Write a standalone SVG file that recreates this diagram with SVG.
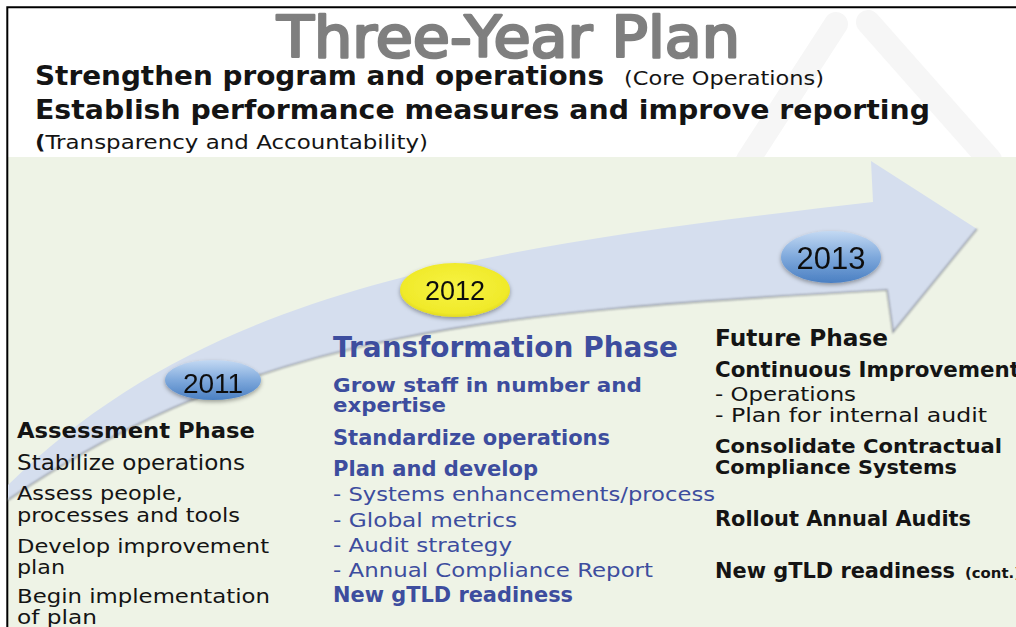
<svg xmlns="http://www.w3.org/2000/svg" width="1016" height="627" viewBox="0 0 1016 627">
<defs>
<style>
.hd{font-family:"DejaVu Sans","Liberation Sans",sans-serif;font-weight:bold;fill:#141414}
.nm{font-family:"DejaVu Sans","Liberation Sans",sans-serif;fill:#141414}
.bb{font-family:"DejaVu Sans","Liberation Sans",sans-serif;font-weight:bold;fill:#3d4d9e}
.bn{font-family:"DejaVu Sans","Liberation Sans",sans-serif;fill:#3d4d9e}
.yr{font-family:"Liberation Sans",Arial,sans-serif;fill:#111;text-anchor:middle}
.ttl{font-family:"DejaVu Sans","Liberation Sans",sans-serif;fill:#7f7f7f}
</style>
<linearGradient id="blueG" x1="0" y1="0" x2="0" y2="1">
<stop offset="0" stop-color="#c3d9f3"/>
<stop offset="0.5" stop-color="#7fa9dc"/>
<stop offset="1" stop-color="#4a7fc2"/>
</linearGradient>
<radialGradient id="yelG" cx="0.5" cy="0.45" r="0.6">
<stop offset="0" stop-color="#f7f343"/>
<stop offset="0.8" stop-color="#f0ea2a"/>
<stop offset="1" stop-color="#d8cf1c"/>
</radialGradient>
<filter id="sh" x="-20%" y="-30%" width="140%" height="170%">
<feDropShadow dx="0" dy="2" stdDeviation="2" flood-color="#000" flood-opacity="0.35"/>
</filter>
<filter id="blur1"><feGaussianBlur stdDeviation="0.8"/></filter>
</defs>

<rect x="0" y="0" width="1016" height="627" fill="#ffffff"/>
<g id="watermark" fill="none" stroke="#f6f6f6" stroke-width="24" stroke-linecap="round">
<path d="M748 160 L836 24"/>
<path d="M868 22 L990 160"/>
</g>
<rect x="8" y="157" width="1008" height="470" fill="#eef3e6"/>
<g id="frame" stroke="#000" stroke-width="2" fill="none">
<path d="M7.3 627 L7.3 7.3 L1016 7.3"/>
</g>

<g id="connectors">
<g id="timeline-arrow">
<path d="M8 485 C208 289 475 248 873 202 L871 161 L977 229 L893 332 L887 290 C494 312 258 330 8 500 Z" fill="#d5deee"/>
<path d="M8 500 C258 330 494 312 887 290 L893 332 L977 229" fill="none" stroke="#8f949c" stroke-width="1.6" filter="url(#blur1)" opacity="0.9"/>
</g>
</g>

<g id="header">
<text x="277" y="57" class="ttl" font-size="57" stroke="#7f7f7f" stroke-width="2.6" stroke-linejoin="round" textLength="463" lengthAdjust="spacingAndGlyphs">Three-Year Plan</text>
<text x="35" y="85" class="hd" font-size="26" textLength="569" lengthAdjust="spacingAndGlyphs">Strengthen program and operations</text>
<text x="624" y="85" class="nm" font-size="19" textLength="200" lengthAdjust="spacingAndGlyphs">(Core Operations)</text>
<text x="35" y="119" class="hd" font-size="26" textLength="895" lengthAdjust="spacingAndGlyphs">Establish performance measures and improve reporting</text>
<text x="35" y="149" class="nm" font-size="19" textLength="393" lengthAdjust="spacingAndGlyphs"><tspan font-weight="bold">(</tspan>Transparency and Accountability)</text>
</g>

<g id="year-2011" filter="url(#sh)">
<ellipse cx="213" cy="380" rx="48" ry="20" fill="url(#blueG)"/>
<text x="213" y="393" class="yr" font-size="28">2011</text>
</g>
<g id="year-2012" filter="url(#sh)">
<ellipse cx="455" cy="290" rx="55" ry="27" fill="url(#yelG)"/>
<text x="455" y="300" class="yr" font-size="27">2012</text>
</g>
<g id="year-2013" filter="url(#sh)">
<ellipse cx="831" cy="257" rx="50" ry="26" fill="url(#blueG)"/>
<text x="831" y="269" class="yr" font-size="31">2013</text>
</g>

<g id="assessment-phase">
<text x="17" y="438" class="hd" font-size="22" textLength="238" lengthAdjust="spacingAndGlyphs">Assessment Phase</text>
<text x="17" y="470" class="nm" font-size="21" textLength="228" lengthAdjust="spacingAndGlyphs">Stabilize operations</text>
<text x="17" y="500" class="nm" font-size="20" textLength="166" lengthAdjust="spacingAndGlyphs">Assess people,</text>
<text x="17" y="522" class="nm" font-size="20" textLength="223" lengthAdjust="spacingAndGlyphs">processes and tools</text>
<text x="17" y="553" class="nm" font-size="20" textLength="252" lengthAdjust="spacingAndGlyphs">Develop improvement</text>
<text x="17" y="574" class="nm" font-size="20" textLength="48" lengthAdjust="spacingAndGlyphs">plan</text>
<text x="17" y="603" class="nm" font-size="20" textLength="253" lengthAdjust="spacingAndGlyphs">Begin implementation</text>
<text x="17" y="624" class="nm" font-size="20" textLength="80" lengthAdjust="spacingAndGlyphs">of plan</text>
</g>

<g id="transformation-phase">
<text x="333" y="357" class="bb" font-size="29" textLength="345" lengthAdjust="spacingAndGlyphs">Transformation Phase</text>
<text x="333" y="392" class="bb" font-size="20" textLength="309" lengthAdjust="spacingAndGlyphs">Grow staff in number and</text>
<text x="333" y="412" class="bb" font-size="20" textLength="113" lengthAdjust="spacingAndGlyphs">expertise</text>
<text x="333" y="445" class="bb" font-size="21" textLength="277" lengthAdjust="spacingAndGlyphs">Standardize operations</text>
<text x="333" y="476" class="bb" font-size="21" textLength="205" lengthAdjust="spacingAndGlyphs">Plan and develop</text>
<text x="333" y="501" class="bn" font-size="20" textLength="382" lengthAdjust="spacingAndGlyphs">- Systems enhancements/process</text>
<text x="333" y="527" class="bn" font-size="20" textLength="184" lengthAdjust="spacingAndGlyphs">- Global metrics</text>
<text x="333" y="552" class="bn" font-size="20" textLength="179" lengthAdjust="spacingAndGlyphs">- Audit strategy</text>
<text x="333" y="577" class="bn" font-size="20" textLength="320" lengthAdjust="spacingAndGlyphs">- Annual Compliance Report</text>
<text x="333" y="602" class="bb" font-size="21" textLength="240" lengthAdjust="spacingAndGlyphs">New gTLD readiness</text>
</g>

<g id="future-phase">
<text x="715" y="346" class="hd" font-size="23" textLength="173" lengthAdjust="spacingAndGlyphs">Future Phase</text>
<text x="715" y="377" class="hd" font-size="21" textLength="305" lengthAdjust="spacingAndGlyphs">Continuous Improvement</text>
<text x="715" y="401" class="nm" font-size="19" textLength="141" lengthAdjust="spacingAndGlyphs">- Operations</text>
<text x="715" y="422" class="nm" font-size="19" textLength="272" lengthAdjust="spacingAndGlyphs">- Plan for internal audit</text>
<text x="715" y="453" class="hd" font-size="20" textLength="287" lengthAdjust="spacingAndGlyphs">Consolidate Contractual</text>
<text x="715" y="474" class="hd" font-size="20" textLength="242" lengthAdjust="spacingAndGlyphs">Compliance Systems</text>
<text x="715" y="526" class="hd" font-size="21" textLength="256" lengthAdjust="spacingAndGlyphs">Rollout Annual Audits</text>
<text x="715" y="578" class="hd" font-size="21" textLength="240" lengthAdjust="spacingAndGlyphs">New gTLD readiness</text>
<text x="965" y="578" class="hd" font-size="14" textLength="56" lengthAdjust="spacingAndGlyphs">(cont.)</text>
</g>
</svg>
